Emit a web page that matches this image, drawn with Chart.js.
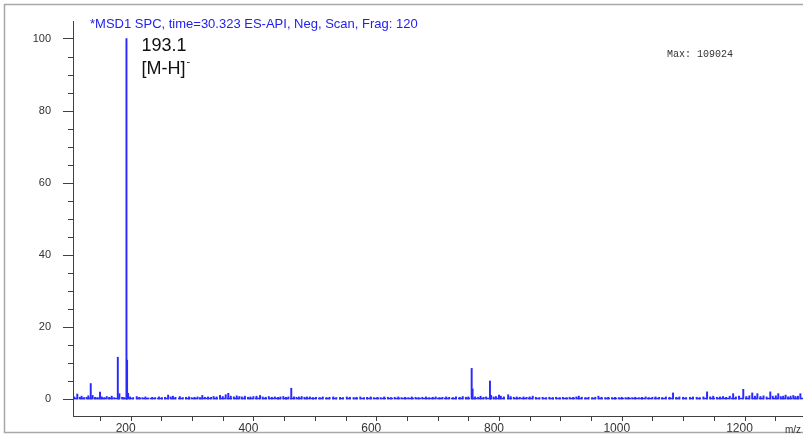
<!DOCTYPE html>
<html>
<head>
<meta charset="utf-8">
<script src="https://cdn.jsdelivr.net/npm/chart.js@4/dist/chart.umd.min.js"></script>
<style>
  html, body { margin: 0; padding: 0; background: #fff; }
  canvas { display: block; }
</style>
</head>
<body>
<canvas id="ms" width="803" height="435"></canvas>
<script>
// Centroided negative-mode ESI scan: m/z and relative abundance (%)
const mzValues = [
  108, 113, 117, 120, 124, 128, 131, 134.9, 138, 142, 146, 150, 153, 157, 161, 165, 169, 173,
  179, 181.6, 186, 189, 193.1, 194.1, 195.8, 199, 204, 209.8, 214, 219, 224, 229, 235, 240,
  246, 251, 256, 261, 265, 268.8, 273, 280, 285, 290, 295, 299, 304, 309, 313, 316.7, 321,
  326, 331, 335, 340, 345.5, 350, 354.8, 359, 363, 368, 372.7, 377, 381, 386, 391, 395, 400,
  405, 410.7, 415, 420, 425, 430, 435, 440, 444, 448.6, 453, 457, 461.6, 466, 470, 474, 478.6,
  483, 487, 492, 497, 502, 508, 513, 519, 524, 530, 535, 541, 546, 552, 557, 563, 568, 574,
  580, 585, 591, 596, 602, 607, 613, 619, 624, 630, 636, 641, 647, 652, 658, 664, 669, 675,
  681, 686, 692, 697, 703, 708, 714, 719, 725, 730, 736, 741, 746, 750, 755.5, 757, 761, 766,
  770, 775, 779, 785.3, 787, 791, 795, 800, 803, 808, 815, 819, 824, 829, 834, 840, 845, 850,
  855, 860, 866, 871, 877, 882, 888, 893, 899, 904, 910, 915, 921, 926, 930, 935, 941, 946,
  952, 957, 962, 967, 973, 978, 984, 989, 995, 1000, 1006, 1011, 1017, 1022, 1028, 1033, 1039,
  1044, 1050, 1055, 1061, 1066, 1072, 1078, 1083.6, 1089, 1094, 1100, 1105, 1111, 1116, 1122,
  1127, 1133, 1139, 1144, 1149, 1155, 1160, 1165, 1170, 1176, 1181.5, 1186, 1191, 1198, 1203,
  1208, 1212.6, 1217, 1221, 1226, 1231, 1236, 1242, 1246, 1251, 1255, 1259, 1263, 1267, 1271,
  1275, 1279.5, 1283, 1287, 1291
];
const intensities = [
  0.6, 1.4, 0.5, 0.8, 0.4, 0.5, 0.9, 4.3, 1.0, 0.5, 0.4, 1.9, 0.6, 0.4, 0.7, 0.5, 0.8, 0.4,
  11.6, 1.5, 0.5, 0.4, 100, 10.8, 1.6, 0.6, 0.4, 0.7, 0.5, 0.4, 0.6, 0.3, 0.5, 0.4,
  0.6, 0.4, 0.5, 1.1, 0.6, 0.8, 0.5, 0.7, 0.4, 0.5, 0.6, 0.4, 0.5, 0.6, 0.4, 1.0, 0.5,
  0.6, 0.5, 0.7, 0.6, 1.0, 0.7, 1.2, 1.6, 0.8, 0.6, 0.9, 0.7, 0.6, 0.8, 0.5, 0.6, 0.7,
  0.8, 1.0, 0.6, 0.5, 0.7, 0.5, 0.6, 0.5, 0.6, 0.7, 0.5, 0.6, 3.0, 0.6, 0.5, 0.6, 0.7,
  0.5, 0.6, 0.6, 0.4, 0.5, 0.4, 0.6, 0.4, 0.5, 0.6, 0.4, 0.5, 0.4, 0.6, 0.5, 0.4, 0.5, 0.6,
  0.4, 0.5, 0.6, 0.4, 0.5, 0.4, 0.6, 0.5, 0.4, 0.5, 0.6, 0.4, 0.5, 0.4, 0.6, 0.5, 0.4, 0.5,
  0.6, 0.4, 0.5, 0.6, 0.4, 0.5, 0.6, 0.5, 0.4, 0.6, 0.5, 0.7, 0.5, 0.6, 8.5, 2.8, 0.6, 0.5,
  0.8, 0.5, 0.6, 5.0, 1.0, 0.6, 0.7, 1.1, 0.8, 0.6, 1.2, 0.7, 0.5, 0.6, 0.5, 0.6, 0.5, 0.6,
  0.8, 0.5, 0.4, 0.5, 0.4, 0.5, 0.4, 0.5, 0.4, 0.5, 0.4, 0.5, 0.5, 0.6, 0.8, 0.5, 0.4, 0.5,
  0.4, 0.5, 0.8, 0.5, 0.4, 0.5, 0.4, 0.5, 0.4, 0.5, 0.4, 0.5, 0.4, 0.5, 0.4, 0.5, 0.6,
  0.4, 0.5, 0.6, 0.5, 0.4, 0.6, 0.5, 1.7, 0.5, 0.6, 0.5, 0.4, 0.5, 0.6, 0.5,
  0.4, 0.6, 2.0, 0.6, 0.8, 0.5, 0.6, 0.7, 0.5, 0.8, 1.5, 0.6, 0.8, 2.7, 0.7,
  0.9, 1.7, 0.8, 1.5, 0.7, 0.9, 0.6, 2.0, 0.8, 0.9, 1.5, 0.7, 0.8, 1.1, 0.6,
  0.8, 1.0, 0.7, 0.8, 1.5
];

// Dashed baseline along the noise floor
const baselineMz = [106, 1296];
const baselineLevel = [0.15, 0.15];

// Axis labels
const yTickLabels = [0, 20, 40, 60, 80, 100];
const xTickLabels = [200, 400, 600, 800, 1000, 1200];
const yMinorStep = 5;
const xMinorStep = 50;

// Texts
const titleText = '*MSD1 SPC, time=30.323 ES-API, Neg, Scan, Frag: 120';
const basePeakMz = 193.1;
const basePeakText = '193.1';
const ionText = '[M-H]';
const ionCharge = '-';
const maxText = 'Max: 109024';
const unitText = 'm/z';

const BLUE = '#2a2aff';
const AXIS = '#404040';

const decorations = {
  id: 'decorations',
  afterDraw(chart) {
    const { ctx, scales: { x, y } } = chart;
    ctx.save();

    // outer frame (right edge runs past the canvas)
    ctx.strokeStyle = '#a8a8a8';
    ctx.lineWidth = 1.5;
    ctx.strokeRect(4.5, 4.5, 820, 428);

    // y tick marks: long at labelled values, short in between
    ctx.strokeStyle = AXIS;
    ctx.lineWidth = 1;
    const yLo = yTickLabels[0], yHi = yTickLabels[yTickLabels.length - 1];
    for (let v = yLo; v <= yHi; v += yMinorStep) {
      const py = Math.round(y.getPixelForValue(v)) + 0.5;
      const len = yTickLabels.includes(v) ? 10 : 5;
      ctx.beginPath();
      ctx.moveTo(x.left - len, py);
      ctx.lineTo(x.left, py);
      ctx.stroke();
    }
    // x tick marks every 50 units
    const xStart = Math.ceil(x.min / xMinorStep) * xMinorStep;
    for (let v = xStart; v <= x.max; v += xMinorStep) {
      const px = Math.round(x.getPixelForValue(v)) + 0.5;
      ctx.beginPath();
      ctx.moveTo(px, y.bottom);
      ctx.lineTo(px, y.bottom + 5);
      ctx.stroke();
    }

    // scan header
    ctx.fillStyle = '#2222ee';
    ctx.font = '13px "Liberation Sans", Arial, sans-serif';
    ctx.textBaseline = 'middle';
    ctx.textAlign = 'left';
    ctx.fillText(titleText, 90, 24);

    // base peak annotation
    const bx = x.getPixelForValue(basePeakMz) + 15;
    ctx.fillStyle = '#111';
    ctx.font = '18px "Liberation Sans", Arial, sans-serif';
    ctx.fillText(basePeakText, bx, 46);
    ctx.fillText(ionText, bx, 69);
    const w = ctx.measureText(ionText).width;
    ctx.font = '11px "Liberation Sans", Arial, sans-serif';
    ctx.fillText(ionCharge, bx + w + 1, 62);

    // absolute intensity of the base peak
    ctx.fillStyle = '#333';
    ctx.font = '10px "Liberation Mono", "Courier New", monospace';
    ctx.fillText(maxText, 667, 54);

    // axis unit
    ctx.font = '10px "Liberation Sans", Arial, sans-serif';
    ctx.fillText(unitText, 785, 430);

    ctx.restore();
  }
};

new Chart(document.getElementById('ms'), {
  data: {
    datasets: [
      {
        type: 'bar',
        data: mzValues.map((m, i) => ({ x: m, y: intensities[i] })),
        backgroundColor: BLUE,
        borderWidth: 0,
        barThickness: 1.3,
        order: 1
      },
      {
        type: 'line',
        data: baselineMz.map((m, i) => ({ x: m, y: baselineLevel[i] })),
        borderColor: BLUE,
        borderWidth: 1.5,
        borderDash: [5, 2],
        pointRadius: 0,
        order: 2
      }
    ]
  },
  options: {
    responsive: false,
    animation: false,
    events: [],
    layout: { padding: { left: 0, right: 0, top: 21, bottom: 0 } },
    plugins: { legend: { display: false }, tooltip: { enabled: false }, title: { display: false } },
    scales: {
      x: {
        type: 'linear',
        min: 106,
        max: 1295.3,
        offset: false,
        grid: { display: false, drawTicks: false },
        border: { display: true, color: AXIS, width: 1 },
        afterBuildTicks: s => { s.ticks = xTickLabels.map(v => ({ value: v })); },
        afterFit: s => { s.height = 19; s.paddingLeft = 0; s.paddingRight = 0; },
        ticks: {
          padding: 5,
          labelOffset: -5,
          maxRotation: 0,
          autoSkip: false,
          color: '#333',
          font: { family: '"Liberation Sans", Arial, sans-serif', size: 12 },
          callback: v => String(v)
        }
      },
      y: {
        type: 'linear',
        min: -4.7,
        max: 104.85,
        grid: { display: false, drawTicks: false },
        border: { display: true, color: AXIS, width: 1 },
        afterBuildTicks: s => { s.ticks = yTickLabels.map(v => ({ value: v })); },
        afterFit: s => { s.width = 73; s.paddingTop = 0; s.paddingBottom = 0; },
        ticks: {
          padding: 22,
          autoSkip: false,
          color: '#333',
          font: { family: '"Liberation Sans", Arial, sans-serif', size: 11 },
          callback: v => String(v)
        }
      }
    }
  },
  plugins: [decorations]
});
</script>
</body>
</html>
